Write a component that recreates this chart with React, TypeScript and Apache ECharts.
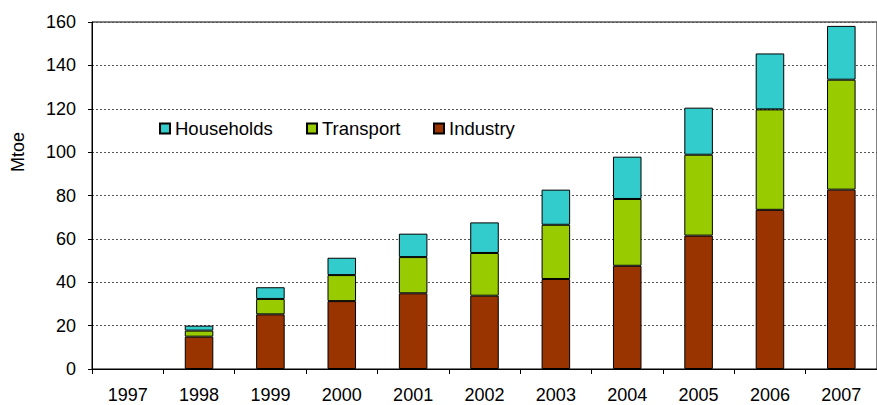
import { useEffect, useRef } from 'react';
import * as echarts from 'echarts';

const years = ['1997', '1998', '1999', '2000', '2001', '2002', '2003', '2004', '2005', '2006', '2007'];
const industry = [null, 14.9, 25.2, 31.3, 34.9, 33.8, 41.5, 47.6, 61.5, 73.4, 82.7];
const transport = [null, 2.8, 7.1, 12.0, 16.7, 19.7, 25.0, 30.8, 37.3, 46.3, 50.7];
const households = [null, 2.3, 5.4, 8.0, 10.8, 14.1, 16.2, 19.5, 21.7, 25.8, 24.8];

const FONT = '"Liberation Sans", Arial, sans-serif';

export default function App() {
  const chartRef = useRef<HTMLDivElement>(null);

  useEffect(() => {
    if (!chartRef.current) return;
    const chart = echarts.init(chartRef.current, null, { renderer: 'svg' });

    const legendBase = {
      orient: 'horizontal' as const,
      top: 114,
      itemWidth: 10,
      itemHeight: 10,
      icon: 'rect',
      textStyle: { fontFamily: FONT, fontSize: 18.5, color: '#000' },
      selectedMode: false,
    };

    const option: echarts.EChartsOption = {
      animation: false,
      grid: {
        left: 92,
        top: 22,
        bottom: 36,
        right: -6,
        show: true,
        borderColor: '#000',
        borderWidth: 1,
      },
      legend: [
        { ...legendBase, left: 154, data: ['Households'] },
        { ...legendBase, left: 301, data: ['Transport'] },
        { ...legendBase, left: 428, data: ['Industry'] },
      ],
      graphic: [
        {
          type: 'text',
          x: 18,
          y: 152,
          rotation: Math.PI / 2,
          style: {
            text: 'Mtoe',
            fontFamily: FONT,
            fontSize: 18,
            fill: '#000',
            align: 'center',
            verticalAlign: 'middle',
          },
        },
      ],
      xAxis: {
        type: 'category',
        data: years,
        axisLine: { lineStyle: { color: '#000', width: 1 } },
        axisTick: { show: true, length: 5, lineStyle: { color: '#000' } },
        axisLabel: { fontFamily: FONT, fontSize: 18, color: '#000', margin: 17 },
      },
      yAxis: {
        type: 'value',
        min: 0,
        max: 160,
        interval: 20,
        axisLine: { show: true, lineStyle: { color: '#000', width: 1 } },
        axisTick: { show: true, length: 4, lineStyle: { color: '#000' } },
        axisLabel: { fontFamily: FONT, fontSize: 18, color: '#000', margin: 16 },
        splitLine: { lineStyle: { color: '#555', type: [2, 2], width: 1 } },
      },
      series: [
        {
          name: 'Industry',
          type: 'bar',
          stack: 'total',
          data: industry,
          barWidth: '40%',
          itemStyle: { color: '#993300', borderColor: '#000', borderWidth: 1 },
        },
        {
          name: 'Transport',
          type: 'bar',
          stack: 'total',
          data: transport,
          barWidth: '40%',
          itemStyle: { color: '#99CC00', borderColor: '#000', borderWidth: 1 },
        },
        {
          name: 'Households',
          type: 'bar',
          stack: 'total',
          data: households,
          barWidth: '40%',
          itemStyle: { color: '#33CCCC', borderColor: '#000', borderWidth: 1 },
        },
      ],
    };

    chart.setOption(option);
    return () => {
      chart.dispose();
    };
  }, []);

  return (
    <div
      ref={chartRef}
      style={{ position: 'fixed', left: 0, top: 0, width: 877, height: 405, background: '#fff' }}
    ></div>
  );
}
